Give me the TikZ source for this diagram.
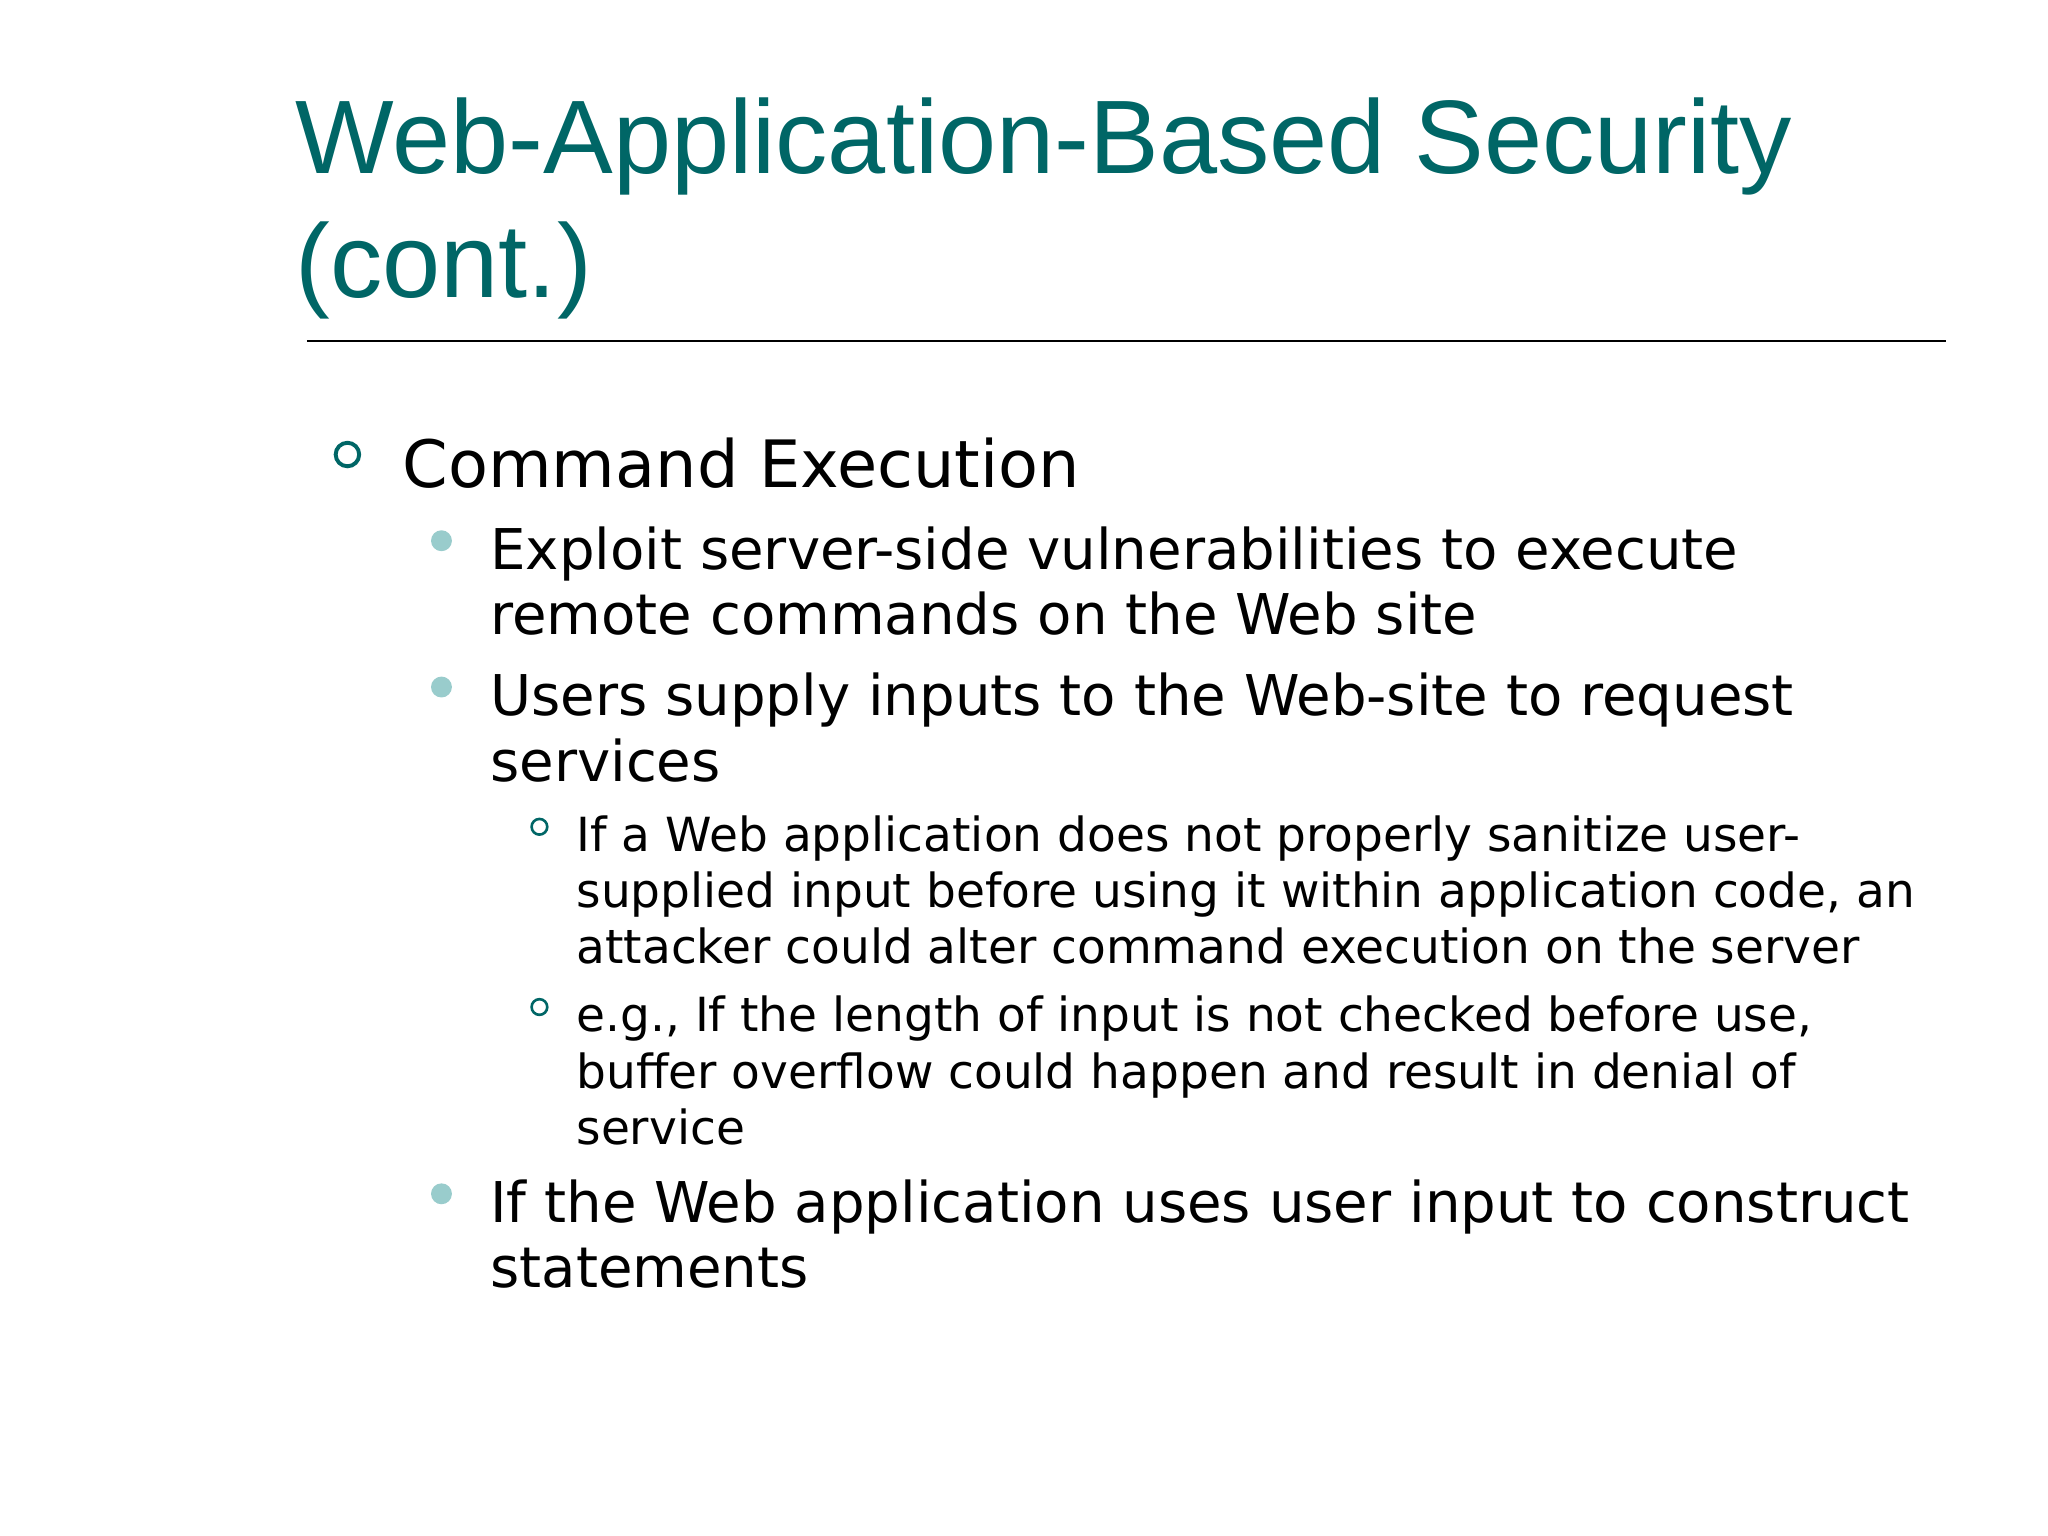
\documentclass[tikz,border=0pt]{standalone}
\usepackage{fontspec}
\setmainfont{DejaVu Sans}
\newfontfamily\titlefont{Liberation Sans}
\definecolor{teal1}{RGB}{0,102,102}
\definecolor{lteal}{RGB}{153,204,204}
\begin{document}
\begin{tikzpicture}[x=0.5pt,y=-0.5pt,
  tl/.style={anchor=base west,inner sep=0,text=teal1,font=\titlefont\fontsize{40}{40}\selectfont},
  l1/.style={anchor=base west,inner sep=0,font=\fontsize{25}{25}\selectfont},
  l2/.style={anchor=base west,inner sep=0,font=\fontsize{21.5}{21.5}\selectfont},
  l3/.style={anchor=base west,inner sep=0,font=\fontsize{18}{18}\selectfont},
  b1/.style={draw=teal1,line width=1.5pt,fill=none},
  b2/.style={fill=lteal,draw=none},
  b3/.style={draw=teal1,line width=1pt,fill=none}]
\fill[white] (0,0) rectangle (1568,1176);
\useasboundingbox (0,0) rectangle (1568,1176);
\node[tl] (t1) at (226,133) {Web-Application-Based Security};
\node[tl] (t2) at (226,228) {(cont.)};
\draw[line width=1pt] (235,261) -- (1490,261);
\draw[b1] (266,348) circle (9);
\node[l1] (c) at (308,373) {Command Execution};
\fill[b2] (338,414) circle (8);
\node[l2] (a1) at (375,436) {Exploit server-side vulnerabilities to execute};
\node[l2] (a2) at (375,486) {remote commands on the Web site};
\fill[b2] (338,526) circle (8);
\node[l2] (b1n) at (375,548) {Users supply inputs to the Web-site to request};
\node[l2] (b2n) at (375,598) {services};
\draw[b3] (413,633) circle (6);
\node[l3] (d1) at (441,652) {If a Web application does not properly sanitize user-};
\node[l3] (d2) at (441,695) {supplied input before using it within application code, an};
\node[l3] (d3) at (441,738) {attacker could alter command execution on the server};
\draw[b3] (413,771) circle (6);
\node[l3] (e1) at (441,790) {e.g., If the length of input is not checked before use,};
\node[l3] (e2) at (441,833) {buffer overflow could happen and result in denial of};
\node[l3] (e3) at (441,876) {service};
\fill[b2] (338,914) circle (8);
\node[l2] (f1) at (375,936) {If the Web application uses user input to construct};
\node[l2] (f2) at (375,986) {statements};
\end{tikzpicture}
\end{document}
